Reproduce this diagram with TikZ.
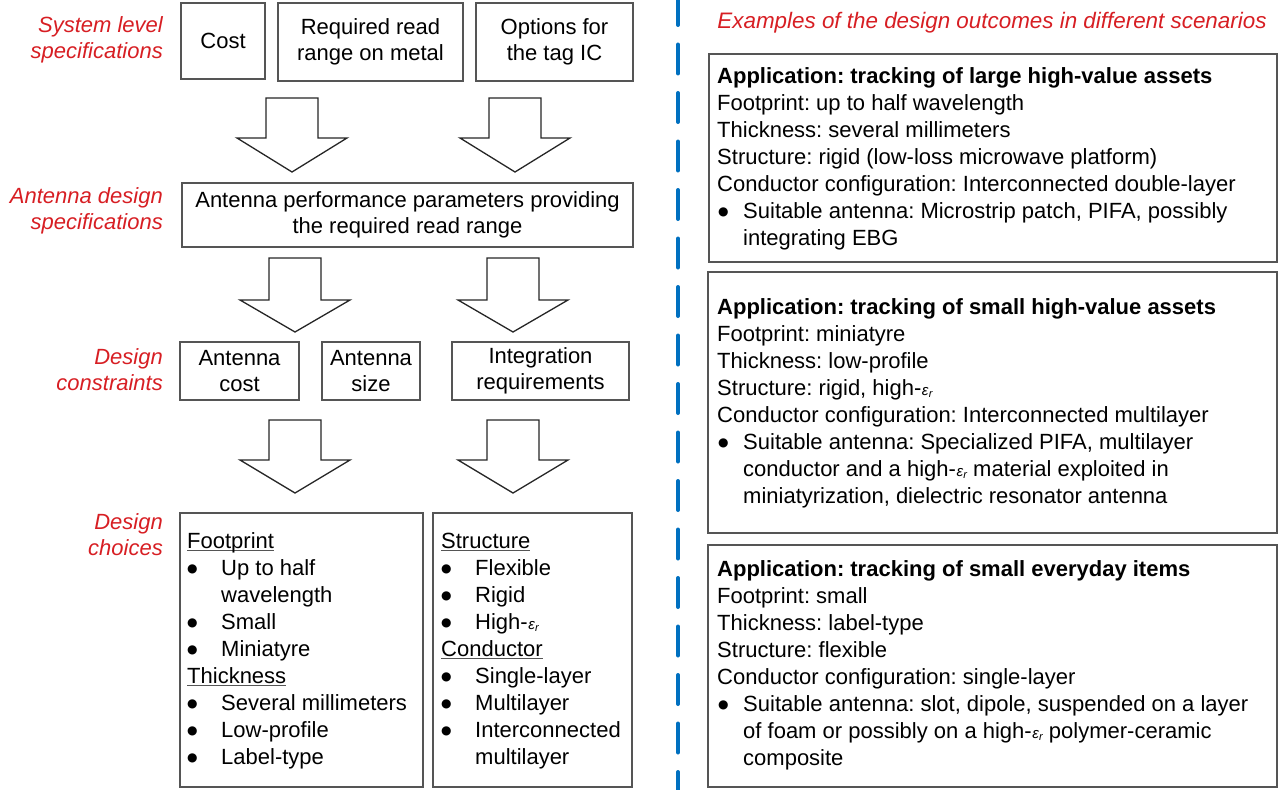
\documentclass[tikz,border=0pt]{standalone}
\usepackage{fontspec}
\setmainfont{Liberation Sans}
\newfontfamily\dvfont{DejaVu Sans}
\frenchspacing
\definecolor{labred}{RGB}{215,30,35}
\definecolor{boxgray}{RGB}{85,85,85}
\definecolor{dashblue}{RGB}{0,112,192}
\newcommand\epsr{\kern0.5pt{\fontsize{15}{15}\selectfont\itshape ε}\kern0.3pt\raisebox{-2.5pt}{\fontsize{11}{11}\selectfont\itshape r}}
\newcommand\fl{\rule{0pt}{17pt}}
\newcommand\ulx[1]{\setbox0\hbox{#1}\rlap{\color{boxgray}\rule[-3pt]{\wd0}{1.3pt}}#1}
\newcommand\bigbul{\raisebox{3pt}{\dvfont\fontsize{12}{12}\selectfont ●}}
\newcommand\lb{\makebox[34pt][l]{\bigbul}}
\newcommand\li{\hspace*{34pt}}
\newcommand\rb{\hspace*{1pt}\makebox[25pt][l]{\bigbul}}
\newcommand\ri{\hspace*{26pt}}
\newcommand\blockarrow[4]{%
  \draw[barrow] ({#1-26},{#2}) -- ({#1+26},{#2}) -- ({#1+26},{#3}) -- ({#1+55},{#3})
    -- ({#1},{#4}) -- ({#1-55},{#3}) -- ({#1-26},{#3}) -- cycle;}
\begin{document}
\begin{tikzpicture}[x=1pt,y=-1pt,
  box/.style={draw=boxgray, line width=1.3pt, fill=white, inner sep=0pt, align=center,
    font=\fontsize{22}{26}\selectfont},
  plainbox/.style={draw=boxgray, line width=1.3pt, inner sep=0pt},
  listtext/.style={inner sep=0pt, anchor=north west, align=left,
    font=\fontsize{22}{27}\selectfont},
  redlabel/.style={inner sep=0pt, anchor=north east, align=right, text=labred,
    font=\fontsize{22}{26}\selectfont\itshape},
  barrow/.style={draw=black!85, line width=1.3pt, fill=white, line join=miter},
  dashline/.style={draw=dashblue, line width=4pt, dash pattern=on 29pt off 19.5pt, line cap=round}
]
\useasboundingbox (0,0) rectangle (1281,789);

% left red labels
\node[redlabel] (l1) at (163,15) {\fl System level\\specifications};
\node[redlabel] (l2) at (163,186) {\fl Antenna design\\specifications};
\node[redlabel] (l3) at (163,347) {\fl Design\\constraints};
\node[redlabel] (l4) at (163,512) {\fl Design\\choices};

% system level boxes
\node[box, minimum width=84pt, minimum height=76pt] (cost) at (223,41) {Cost};
\node[box, minimum width=185pt, minimum height=78pt] (req) at (370.5,42) {Required read\\range on metal};
\node[box, minimum width=157pt, minimum height=78pt] (opt) at (554.5,42) {Options for\\the tag IC};

% arrows row 1
\blockarrow{292}{98}{138}{172}
\blockarrow{515}{98}{138}{172}

\node[box, minimum width=451pt, minimum height=64pt] (perf) at (407.5,215)
  {Antenna performance parameters providing\\the required read range};

% arrows row 2
\blockarrow{295}{258}{300}{332}
\blockarrow{513}{258}{300}{332}

% constraints
\node[box, minimum width=119pt, minimum height=58pt] (acost) at (239.5,371) {Antenna\\cost};
\node[box, minimum width=98pt, minimum height=58pt] (asize) at (371,371) {Antenna\\size};
\node[box, minimum width=177pt, minimum height=58pt] (integ) at (540.5,371) {Integration\\requirements};

% arrows row 3
\blockarrow{295}{420}{460}{493}
\blockarrow{513}{420}{460}{493}

% design choices
\node[plainbox, minimum width=243pt, minimum height=274pt] (chl) at (301.5,650) {};
\node[plainbox, minimum width=199pt, minimum height=274pt] (chr) at (532.5,650) {};
\node[listtext] (chltext) at (187,531) {\fl\ulx{Footprint}\\
\lb Up to half\\
\li wavelength\\
\lb Small\\
\lb Miniatyre\\
\ulx{Thickness}\\
\lb Several millimeters\\
\lb Low-profile\\
\lb Label-type};
\node[listtext] (chrtext) at (441,531) {\fl\ulx{Structure}\\
\lb Flexible\\
\lb Rigid\\
\lb High-\epsr\\
\ulx{Conductor}\\
\lb Single-layer\\
\lb Multilayer\\
\lb Interconnected\\
\li multilayer};

% dashed separator
\coordinate (dtop) at (678,-4);
\coordinate (dbot) at (678,800);
\draw[dashline] (dtop) -- (dbot);

% header
\node[inner sep=0pt, anchor=base, text=labred, font=\fontsize{22.4}{26}\selectfont\itshape]
  (hdr) at (992,29) {Examples of the design outcomes in different scenarios};

% scenario boxes
\node[plainbox, minimum width=568pt, minimum height=208pt] (app1) at (993,158) {};
\node[plainbox, minimum width=569pt, minimum height=261pt] (app2) at (992.5,402.5) {};
\node[plainbox, minimum width=569pt, minimum height=242pt] (app3) at (992.5,666) {};

\node[listtext] (app1text) at (717,66) {\fl\textbf{Application: tracking of large high-value assets}\\
Footprint: up to half wavelength\\
Thickness: several millimeters\\
Structure: rigid (low-loss microwave platform)\\
Conductor configuration: Interconnected double-layer\\
\rb Suitable antenna: Microstrip patch, PIFA, possibly\\
\ri integrating EBG};

\node[listtext] (app2text) at (717,297) {\fl\textbf{Application: tracking of small high-value assets}\\
Footprint: miniatyre\\
Thickness: low-profile\\
Structure: rigid, high-\epsr\\
Conductor configuration: Interconnected multilayer\\
\rb Suitable antenna: Specialized PIFA, multilayer\\
\ri conductor and a high-\epsr{} material exploited in\\
\ri miniatyrization, dielectric resonator antenna};

\node[listtext] (app3text) at (717,559) {\fl\textbf{Application: tracking of small everyday items}\\
Footprint: small\\
Thickness: label-type\\
Structure: flexible\\
Conductor configuration: single-layer\\
\rb Suitable antenna: slot, dipole, suspended on a layer\\
\ri of foam or possibly on a high-\epsr{} polymer-ceramic\\
\ri composite};
\end{tikzpicture}
\end{document}
